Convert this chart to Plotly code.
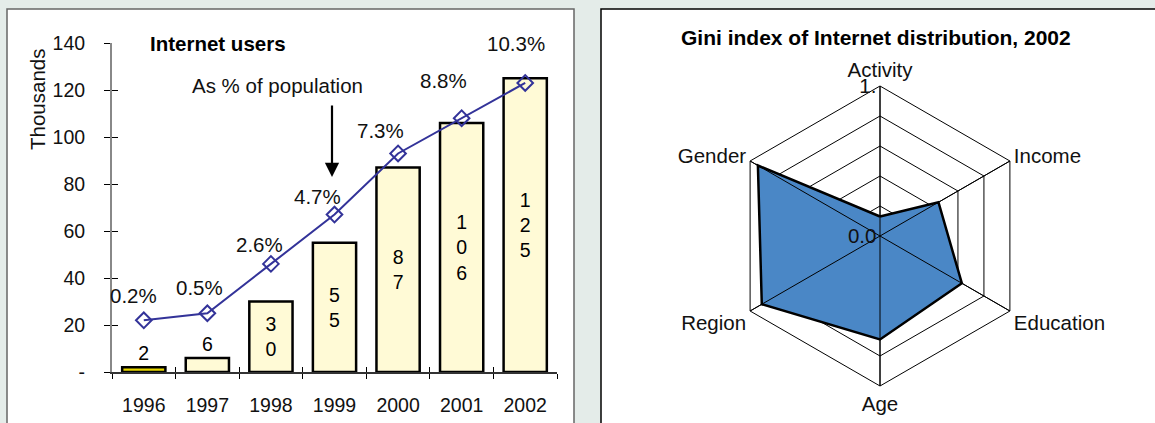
import plotly.graph_objects as go

# ---------------- data ----------------
years = ["1996", "1997", "1998", "1999", "2000", "2001", "2002"]
users_thousands = [2, 6, 30, 55, 87, 106, 125]
pct_population = [0.2, 0.5, 2.6, 4.7, 7.3, 8.8, 10.3]
y_tick_vals = [0, 20, 40, 60, 80, 100, 120, 140]
y_tick_text = ["-", "20", "40", "60", "80", "100", "120", "140"]

gini_dims = ["Activity", "Income", "Education", "Age", "Region", "Gender"]
gini_values = [0.13, 0.45, 0.63, 0.69, 0.91, 0.94]
r_tick_vals = [0, 0.2, 0.4, 0.6, 0.8, 1.0]
r_tick_text = ["0.0", "", "", "", "", "1."]

# ---------------- style ----------------
W, H = 1155, 423
FONT = "Arial, Liberation Sans, sans-serif"
FS = 19.5
FT = 20.5
BG = "#e4ece9"
BAR_FILL = ["#e8d800"] + ["#fffad6"] * 6
LINE_COL = "#333399"
# label offsets (pixels) of the % labels relative to their markers
pct_dx = [-10, -8, -11, -17, -18, -18, -9]
pct_dy = [25, 26, 19, 18, 23, 38, 39]


def X(px):
    return px / W


def Y(py):
    return 1 - py / H


fig = go.Figure()

bar_text = ["<br>".join(str(v)) for v in users_thousands]
fig.add_trace(go.Bar(
    x=years, y=users_thousands, text=bar_text,
    textposition=["outside" if v < 10 else "inside" for v in users_thousands],
    insidetextanchor="middle", constraintext="none", cliponaxis=False,
    textfont=dict(family=FONT, size=FS, color="black"),
    marker=dict(color=BAR_FILL, line=dict(color="black", width=2.5)),
    width=0.68, xaxis="x", yaxis="y", showlegend=False,
))

fig.add_trace(go.Scatter(
    x=years, y=pct_population, mode="lines+markers",
    line=dict(color=LINE_COL, width=2),
    marker=dict(symbol="diamond-open", size=12, color=LINE_COL, line=dict(width=2)),
    xaxis="x", yaxis="y2", showlegend=False, cliponaxis=False,
))

fig.add_trace(go.Scatterpolar(
    r=gini_values + gini_values[:1], theta=gini_dims + gini_dims[:1],
    mode="lines", fill="toself", fillcolor="#4a87c6",
    line=dict(color="black", width=2.5), showlegend=False,
))

# spokes drawn over the filled area (as in the original)
spoke_r, spoke_t = [], []
for d in gini_dims:
    spoke_r += [r_tick_vals[0], r_tick_vals[-1], None]
    spoke_t += [d, d, None]
fig.add_trace(go.Scatterpolar(
    r=spoke_r, theta=spoke_t, mode="lines", line=dict(color="black", width=1),
    showlegend=False, hoverinfo="skip", connectgaps=False,
))

annotations = []
for i, (p, dx, dy) in enumerate(zip(pct_population, pct_dx, pct_dy)):
    # category axis: position given as the category index
    annotations.append(dict(
        x=i, y=p, xref="x", yref="y2", text=f"{p}%", showarrow=False,
        xanchor="center", yanchor="middle",
        xshift=dx, yshift=dy, font=dict(family=FONT, size=FT, color="#111")))

annotations += [
    dict(x=X(148), y=Y(43), xref="paper", yref="paper", text="<b>Internet users</b>",
         showarrow=False, xanchor="left", yanchor="middle",
         font=dict(family=FONT, size=FT, color="black")),
    dict(x=X(277), y=Y(86), xref="paper", yref="paper", text="As % of population",
         showarrow=False, xanchor="center", yanchor="middle",
         font=dict(family=FONT, size=FT, color="#111")),
    dict(x=X(332), y=Y(177), xref="paper", yref="paper", ax=0, ay=-73,
         axref="pixel", ayref="pixel", text="", showarrow=True,
         arrowhead=2, arrowsize=1.3, arrowwidth=2.2, arrowcolor="black"),
    dict(x=X(37), y=Y(100), xref="paper", yref="paper", text="Thousands",
         showarrow=False, textangle=-90, xanchor="center", yanchor="middle",
         font=dict(family=FONT, size=FT, color="#111")),
    dict(x=X(876), y=Y(37), xref="paper", yref="paper",
         text="<b>Gini index of Internet distribution, 2002</b>",
         showarrow=False, xanchor="center", yanchor="middle",
         font=dict(family=FONT, size=21, color="black")),
]

shapes = [
    dict(type="rect", xref="paper", yref="paper", x0=X(7), x1=X(574), y0=-0.05, y1=Y(9),
         fillcolor="white", line=dict(color="#666", width=1.5), layer="below"),
    dict(type="rect", xref="paper", yref="paper", x0=X(601), x1=1.05, y0=-0.05, y1=Y(9),
         fillcolor="white", line=dict(color="black", width=1.5), layer="below"),
]

xdom = [X(112), X(557)]
ydom = [Y(372), Y(43)]

fig.update_layout(
    width=W, height=H, margin=dict(l=0, r=0, t=0, b=0, autoexpand=False), autosize=False,
    paper_bgcolor=BG, plot_bgcolor="rgba(0,0,0,0)",
    font=dict(family=FONT, size=FS, color="#111"),
    xaxis=dict(domain=xdom, type="category", range=[-0.5, 6.5], tickson="boundaries",
               ticks="outside", ticklen=5, tickcolor="black", tickwidth=1.2,
               showline=True, linecolor="#333", linewidth=1.5, showgrid=False,
               automargin=False,
               ticklabelstandoff=15, tickfont=dict(size=FS), anchor="y", zeroline=False),
    xaxis2=dict(domain=xdom, type="category", range=[-0.5, 6.5], tickson="boundaries",
                ticks="inside", ticklen=5, tickcolor="black", tickwidth=1.2,
                showticklabels=False, showline=False, showgrid=False, automargin=False,
                overlaying="x", anchor="y", matches="x"),
    yaxis=dict(domain=ydom, range=[0, 140], tickvals=y_tick_vals, ticktext=y_tick_text,
               ticks="outside", ticklen=6, tickcolor="black", tickwidth=1.2,
               showline=True, linecolor="#888", linewidth=2, showgrid=False,
               automargin=False,
               zeroline=False, ticklabelstandoff=15, tickfont=dict(size=FS), anchor="x"),
    yaxis2=dict(domain=ydom, range=[-2, 12], overlaying="y", anchor="x",
                showticklabels=False, showline=False, ticks="", showgrid=False,
                zeroline=False, automargin=False),
    yaxis3=dict(domain=ydom, range=[0, 140], tickvals=y_tick_vals, ticks="inside",
                ticklen=6, tickcolor="black", tickwidth=1.2, showticklabels=False,
                showline=False, showgrid=False, zeroline=False, overlaying="y",
                anchor="x", automargin=False),
    polar=dict(
        domain=dict(x=[X(730), X(1030)], y=[Y(386), Y(86)]),
        bgcolor="white", gridshape="linear",
        radialaxis=dict(range=[0, 1], angle=90, tickangle=90, tickvals=r_tick_vals,
                        ticktext=r_tick_text, showline=False,
                        gridcolor="black", gridwidth=1, ticks="",
                        tickfont=dict(size=FT, color="#111"), side="counterclockwise"),
        angularaxis=dict(rotation=90, direction="clockwise", showline=True,
                         linecolor="black", linewidth=1, gridcolor="black", gridwidth=1,
                         ticks="", tickfont=dict(size=FT, color="#111")),
    ),
    annotations=annotations, shapes=shapes,
)

# invisible trace that activates the overlay axes giving crossing tick marks
fig.add_trace(go.Scatter(x=[years[0]], y=[0], xaxis="x2", yaxis="y3", mode="markers",
                         marker=dict(opacity=0), showlegend=False, hoverinfo="skip"))

fig.write_html("out.html", config={"displayModeBar": False},
               post_script="document.body.style.margin='0';document.body.style.overflow='hidden';")
